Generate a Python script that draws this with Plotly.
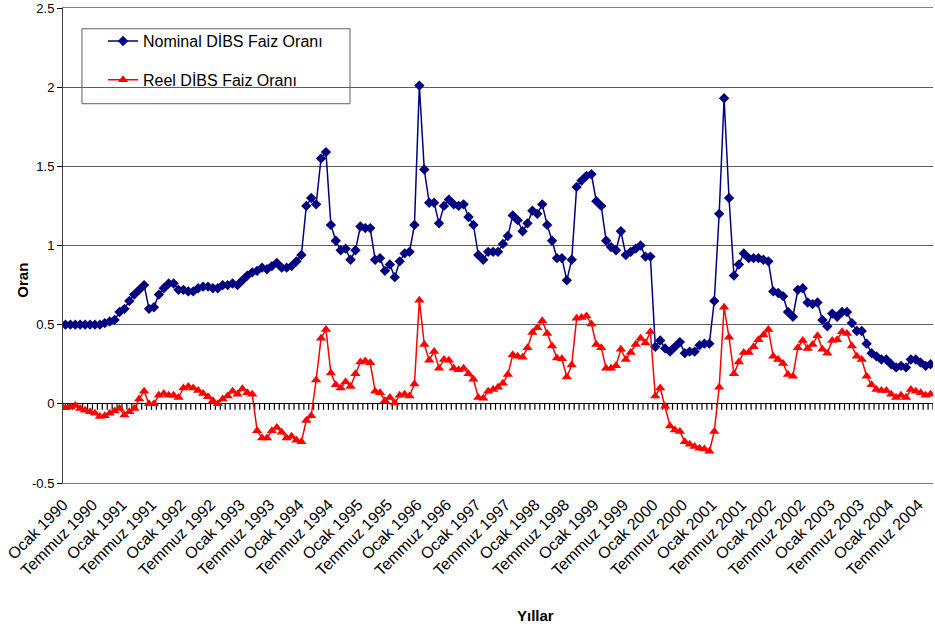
import plotly.graph_objects as go

# Monthly bond yields from Ocak 1990 (one value per month)
nominal = [
    0.50, 0.50, 0.50, 0.50, 0.50, 0.50, 0.50, 0.50, 0.51, 0.52,
    0.53, 0.58, 0.60, 0.65, 0.69, 0.72, 0.75, 0.60, 0.61, 0.69,
    0.73, 0.76, 0.76, 0.72, 0.72, 0.71, 0.71, 0.73, 0.74, 0.74,
    0.73, 0.73, 0.75, 0.75, 0.76, 0.75, 0.78, 0.81, 0.83,
    0.84, 0.86, 0.85, 0.87, 0.89, 0.86, 0.86, 0.87, 0.90, 0.94,
    1.25, 1.30, 1.26, 1.55, 1.59, 1.13, 1.03, 0.97, 0.98, 0.91,
    0.97, 1.12, 1.11, 1.11, 0.91, 0.92, 0.84, 0.88, 0.80, 0.90,
    0.95, 0.96, 1.13, 2.01, 1.48, 1.27, 1.27, 1.14, 1.25, 1.29,
    1.26, 1.25, 1.26, 1.18, 1.13, 0.94, 0.91, 0.96, 0.96, 0.96,
    1.01, 1.06, 1.19, 1.16, 1.09, 1.14, 1.22, 1.20, 1.26,
    1.13, 1.03, 0.92, 0.92, 0.78, 0.91, 1.37, 1.41, 1.44, 1.45,
    1.28, 1.25, 1.03, 0.99, 0.97, 1.09, 0.94, 0.96, 0.98, 1.00,
    0.93, 0.93, 0.36, 0.40, 0.35, 0.33, 0.36, 0.39, 0.32, 0.33,
    0.33, 0.37, 0.38, 0.38, 0.65, 1.20, 1.93, 1.30, 0.81, 0.88,
    0.95, 0.92, 0.92, 0.92, 0.91, 0.90, 0.71, 0.70, 0.68, 0.58,
    0.55, 0.72, 0.73, 0.64, 0.63, 0.64, 0.53, 0.49, 0.57, 0.55,
    0.58, 0.58, 0.51, 0.46, 0.46, 0.38, 0.32, 0.30, 0.28, 0.28,
    0.25, 0.23, 0.24, 0.23, 0.28, 0.28, 0.26, 0.24, 0.25,
]

real = [
    -0.025, -0.02, -0.01, -0.03, -0.04, -0.05, -0.06, -0.08, -0.075, -0.06,
    -0.045, -0.03, -0.07, -0.05, -0.03, 0.03, 0.08, 0.0, 0.0, 0.055,
    0.065, 0.055, 0.055, 0.04, 0.10, 0.11, 0.10, 0.085, 0.065, 0.045,
    0.02, 0.0, 0.03, 0.05, 0.08, 0.06, 0.095, 0.07, 0.06,
    -0.17, -0.215, -0.215, -0.17, -0.15, -0.18, -0.215, -0.205, -0.23, -0.24,
    -0.105, -0.075, 0.15, 0.415, 0.47, 0.195, 0.12, 0.10, 0.14, 0.11,
    0.19, 0.265, 0.27, 0.26, 0.08, 0.07, 0.02, 0.04, 0.005, 0.055,
    0.06, 0.05, 0.125, 0.655, 0.375, 0.275, 0.33, 0.225, 0.28, 0.275,
    0.225, 0.215, 0.225, 0.19, 0.155, 0.04, 0.035, 0.08, 0.09, 0.105,
    0.13, 0.185, 0.31, 0.30, 0.295, 0.355, 0.45, 0.48, 0.525,
    0.445, 0.365, 0.29, 0.285, 0.17, 0.245, 0.54, 0.545, 0.555, 0.505,
    0.375, 0.355, 0.225, 0.225, 0.24, 0.345, 0.28, 0.325, 0.375, 0.415,
    0.385, 0.455, 0.05, 0.10, -0.015, -0.14, -0.165, -0.175, -0.24, -0.255,
    -0.27, -0.28, -0.285, -0.30, -0.175, 0.105, 0.61, 0.42, 0.19, 0.265,
    0.325, 0.325, 0.36, 0.405, 0.435, 0.47, 0.30, 0.28, 0.255, 0.185,
    0.175, 0.355, 0.40, 0.35, 0.375, 0.43, 0.345, 0.32, 0.40, 0.405,
    0.455, 0.445, 0.365, 0.30, 0.28, 0.175, 0.12, 0.09, 0.085, 0.085,
    0.06, 0.04, 0.055, 0.04, 0.09, 0.08, 0.07, 0.055, 0.06,
]

months_tr = ["Ocak", "Şubat", "Mart", "Nisan", "Mayıs", "Haziran",
             "Temmuz", "Ağustos", "Eylül", "Ekim", "Kasım", "Aralık"]
years = list(range(1990, 2005))
periods = [f"{m} {y}" for y in years for m in months_tr][:len(nominal)]

# Axis labels: every six months (Ocak / Temmuz)
label_idx = list(range(0, len(periods), 6))
label_text = [periods[i] for i in label_idx]
y_ticks = [-0.5, 0, 0.5, 1, 1.5, 2, 2.5]
y_tick_text = ["-0.5", "0", "0.5", "1", "1.5", "2", "2.5"]

FONT = "Liberation Sans, Arial, sans-serif"
idx = list(range(len(periods)))

y_lo, y_hi = -0.5, 2.5
PLOT_H = 628 - 8 - 145           # plot area height in px
TICK_PX = 6                      # length of the category tick marks

# Category tick marks hanging below the zero line, one per month boundary
tick_len = TICK_PX * (y_hi - y_lo) / PLOT_H
comb_x, comb_y = [], []
for i in range(len(periods) + 1):
    comb_x += [i - 0.5, i - 0.5, None]
    comb_y += [0.0, -tick_len, None]

fig = go.Figure()
fig.add_trace(go.Scatter(
    x=comb_x, y=comb_y, mode="lines", connectgaps=False,
    line=dict(color="#000000", width=1.2, simplify=False),
    showlegend=False, hoverinfo="skip",
))
fig.add_trace(go.Scatter(
    x=idx, y=nominal, name="Nominal DİBS Faiz Oranı", mode="lines+markers",
    line=dict(color="#000080", width=1.5),
    marker=dict(symbol="diamond", size=8, color="#000080"),
    legendgroup="a",
))
fig.add_trace(go.Scatter(
    x=idx, y=real, name="Reel DİBS Faiz Oranı", mode="lines+markers",
    line=dict(color="#FF0000", width=1.5),
    marker=dict(symbol="triangle-up", size=9, color="#FF0000"),
    legendgroup="b",
))

fig.update_layout(
    width=935, height=628,
    margin=dict(l=63, r=2, t=8, b=145),
    paper_bgcolor="white", plot_bgcolor="white",
    font=dict(family=FONT, color="black"),
    showlegend=True,
    legend=dict(
        x=0.046, y=0.966, xanchor="left", yanchor="top",
        bgcolor="rgba(0,0,0,0)", borderwidth=0,
        font=dict(size=16, family=FONT), tracegroupgap=15,
        traceorder="grouped",
    ),
    xaxis=dict(
        range=[-0.5, len(periods) - 0.5],
        tickvals=[i - 0.45 for i in label_idx], ticktext=label_text,
        tickangle=-45, tickfont=dict(size=16, family=FONT),
        ticks="", showgrid=False, zeroline=False,
        showline=True, linecolor="#808080", linewidth=1, mirror=True,
        ticklabelstandoff=5,
    ),
    yaxis=dict(
        range=[y_lo, y_hi], tickvals=y_ticks, ticktext=y_tick_text,
        tickfont=dict(size=13, family=FONT),
        ticks="outside", ticklen=5, tickcolor="black",
        showgrid=True, gridcolor="#5e5e5e", gridwidth=1,
        zeroline=True, zerolinecolor="black", zerolinewidth=1,
        showline=True, linecolor="#404040", linewidth=1,
    ),
    annotations=[
        dict(text="<b>Oran</b>", xref="paper", yref="paper",
             x=-0.0586, y=0.427, textangle=-90, showarrow=False,
             font=dict(size=15, family=FONT)),
        dict(text="<b>Yıllar</b>", xref="paper", yref="paper",
             x=0.543, y=-0.278, showarrow=False, yanchor="middle",
             font=dict(size=15, family=FONT)),
    ],
    shapes=[
        # legend box
        dict(type="rect", xref="paper", yref="paper", x0=0.0218, x1=0.3299,
             y0=0.7985, y1=0.9563, line=dict(color="#606060", width=1),
             fillcolor="white", layer="below"),
    ],
)

fig.write_html("out.html")
